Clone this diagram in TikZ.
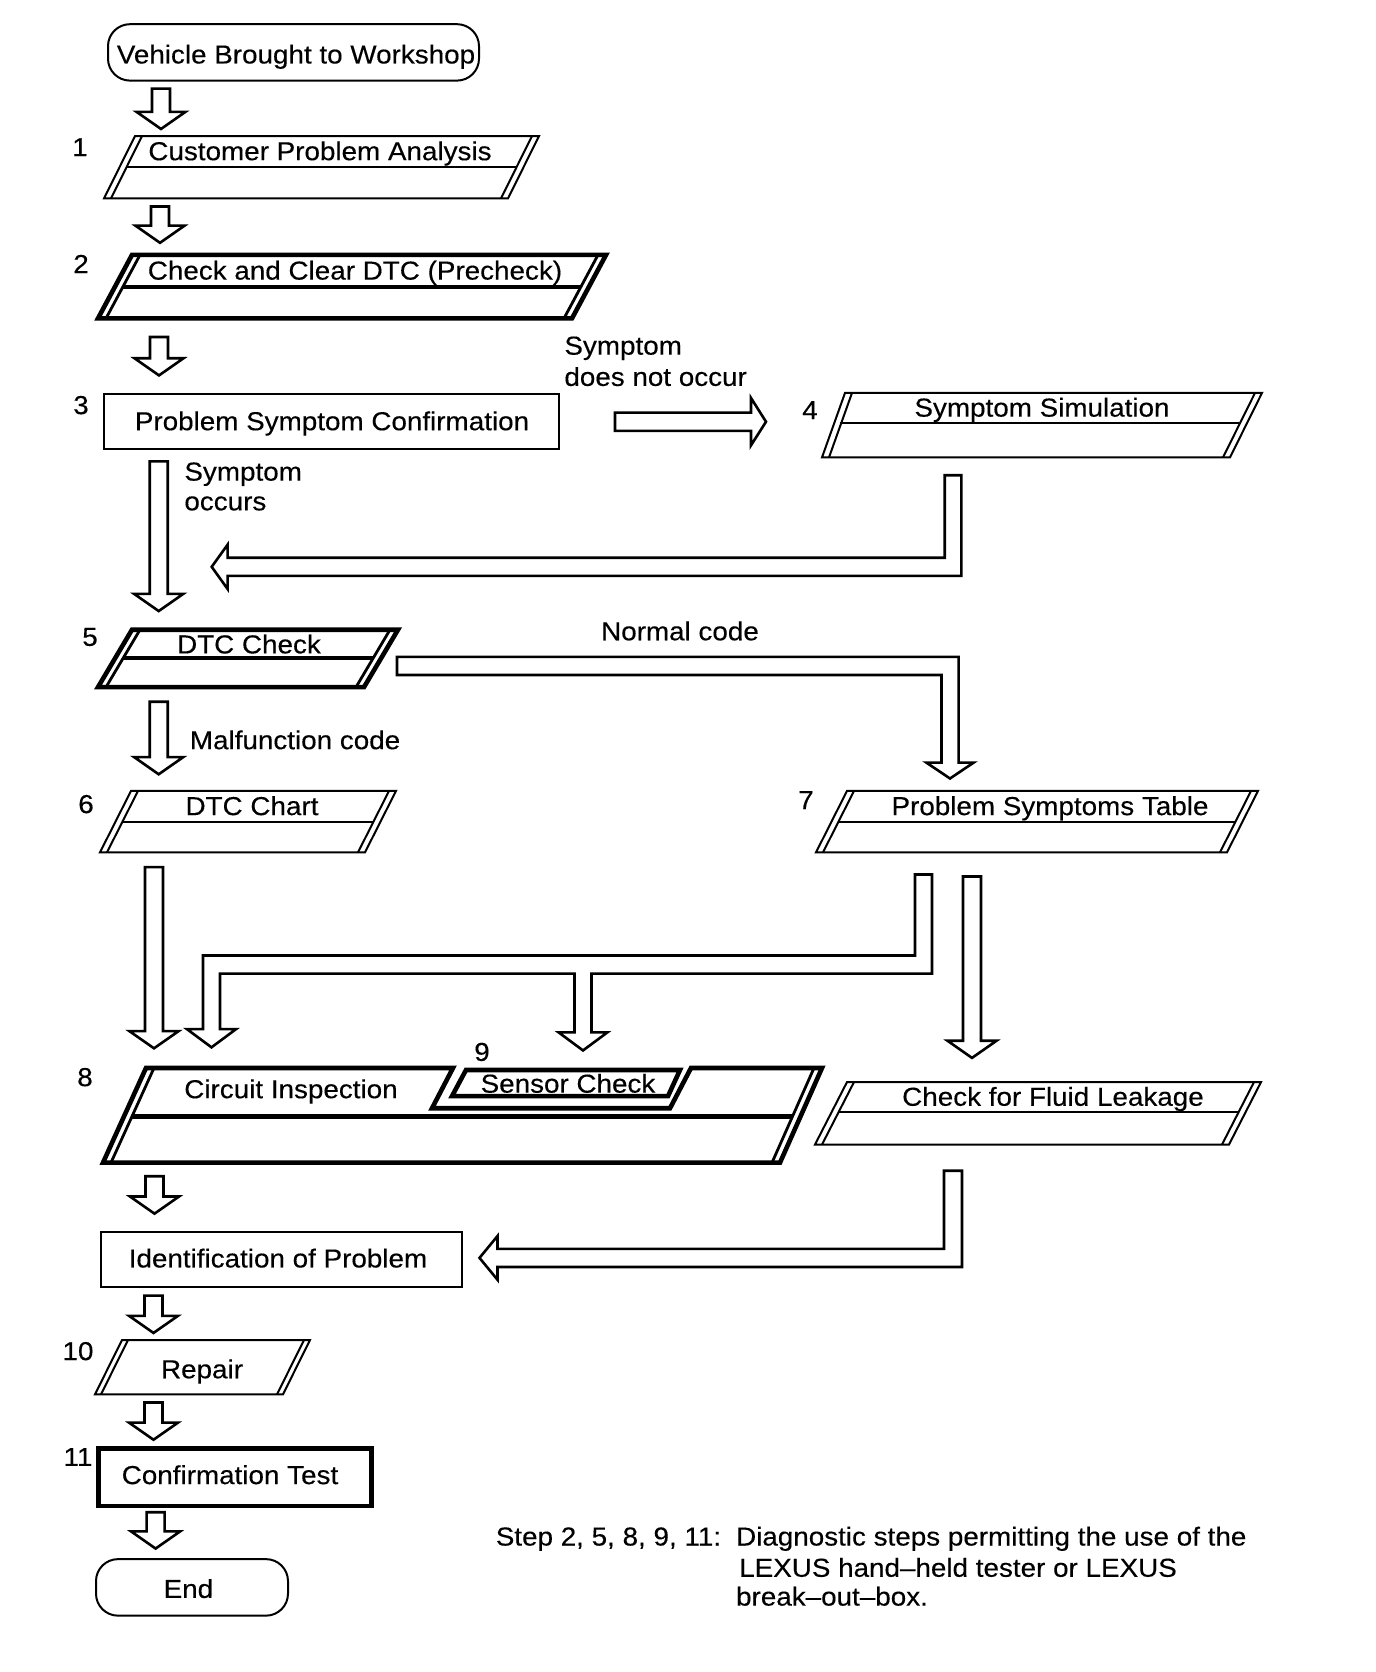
\documentclass[tikz,border=0pt]{standalone}
\usepackage{fontspec}
\setmainfont{Liberation Sans}[FakeStretch=1.07,FakeBold=0.3]
\tikzset{
 thinln/.style={line width=1pt},
 thickln/.style={line width=2.3pt},
 midln/.style={line width=1.4pt},
 blk/.style={line width=1.3pt, fill=white, line join=miter},
 lbl/.style={inner sep=0pt, font=\fontsize{13}{15.5}\selectfont},
}
% down block arrow: x, ytop, ytip
\newcommand\darr[3]{\draw[blk] ({#1-9},#2) -- ({#1+9},#2) -- ({#1+9},{#3-17}) -- ({#1+24.5},{#3-17}) -- (#1,#3) -- ({#1-24.5},{#3-17}) -- ({#1-9},{#3-17}) -- cycle;}
% parallelogram: outer style, inner style, TLx, TRx, ytop, ybot, slant, gap
\newcommand\pgram[8]{%
 \draw[#1] (#3,#5) -- (#4,#5) -- ({#4-#7},#6) -- ({#3-#7},#6) -- cycle;
 \draw[#2] ({#3+#8},#5) -- ({#3+#8-#7},#6);
 \draw[#2] ({#4-#8},#5) -- ({#4-#8-#7},#6);}
% divider: style, TLx, TRx, ytop, ybot, slant, gap, ydiv
\newcommand\pdiv[8]{%
 \draw[#1] ({#2+#7-#6*(#8-#4)/(#5-#4)},#8) -- ({#3-#7-#6*(#8-#4)/(#5-#4)},#8);}
\begin{document}
\begin{tikzpicture}[x=0.5pt,y=-0.50375pt]
\useasboundingbox (0pt,0pt) rectangle (688pt,-836pt);
% start
\draw[thinln, rounded corners=11pt] (108,24) rectangle (479,80);
\node[lbl,anchor=base] (start) at (296,63) {Vehicle Brought to Workshop};
\darr{161}{88}{128}
% 1
\node[lbl,anchor=base] (n1) at (80,155) {1};
\pgram{thinln}{thinln}{135}{539}{135}{197}{31}{7}
\pdiv{thinln}{135}{539}{135}{197}{31}{7}{166}
\node[lbl,anchor=base] (b1) at (320,159) {Customer Problem Analysis};
\darr{160}{205}{241}
% 2
\node[lbl,anchor=base] (n2) at (81,271) {2};
\pgram{thickln}{midln}{132}{606}{253}{316}{34}{8}
\pdiv{thickln}{132}{606}{253}{316}{34}{8}{285}
\node[lbl,anchor=base] (b2) at (355,277.5) {Check and Clear DTC (Precheck)};
\darr{159}{334.5}{372.6}
% 3
\node[lbl,anchor=base] (n3) at (81,411) {3};
\draw[thinln] (104,391) rectangle (559,446);
\node[lbl,anchor=base] (b3) at (332,427) {Problem Symptom Confirmation};
\node[lbl,anchor=base west] (l3a) at (564,352) {Symptom};
\node[lbl,anchor=base west] (l3b) at (564,383) {does not occur};
\draw[blk] (615,409.6) -- (751,409.6) -- (751,395) -- (766,418.6) -- (751,442) -- (751,427.6) -- (615,427.6) -- cycle;
% 4
\node[lbl,anchor=base] (n4) at (810,416) {4};
\draw[thinln] (845,390) -- (1262,390) -- (1230,454) -- (822,454) -- cycle;
\draw[thinln] (852,390) -- (829,454);
\draw[thinln] (1255,390) -- (1223,454);
\draw[thinln] (839.5,420) -- (1239,420);
\node[lbl,anchor=base] (b4) at (1042,413.5) {Symptom Simulation};
\draw[blk] (944.7,471.7) -- (961.3,471.7) -- (961.3,571.6) -- (227.6,571.6) -- (227.6,584.6) -- (211.7,562.6) -- (227.6,540.6) -- (227.6,553.6) -- (944.7,553.6) -- cycle;
% symptom occurs
\darr{158.7}{458}{606.5}
\node[lbl,anchor=base west] (l5a) at (184,477) {Symptom};
\node[lbl,anchor=base west] (l5b) at (184,506.5) {occurs};
% 5
\node[lbl,anchor=base] (n5) at (90,641) {5};
\pgram{thickln}{midln}{132}{398}{625}{682}{34}{8}
\pdiv{thickln}{132}{398}{625}{682}{34}{8}{653}
\node[lbl,anchor=base] (b5) at (249,648.5) {DTC Check};
\node[lbl,anchor=base] (lnc) at (680,635.5) {Normal code};
\draw[blk] (397,652) -- (958.6,652) -- (958.6,757) -- (973.5,757) -- (950,772.7) -- (926.5,757) -- (941.5,757) -- (941.5,670) -- (397,670) -- cycle;
\darr{158.7}{696.5}{768.5}
\node[lbl,anchor=base west] (lmc) at (189.5,743.6) {Malfunction code};
% 6
\node[lbl,anchor=base] (n6) at (86,807) {6};
\pgram{thinln}{thinln}{131}{396}{785}{846}{31}{7}
\pdiv{thinln}{131}{396}{785}{846}{31}{7}{816}
\node[lbl,anchor=base] (b6) at (252,809) {DTC Chart};
% 7
\node[lbl,anchor=base] (n7) at (806,803) {7};
\pgram{thinln}{thinln}{847}{1258}{785}{846}{31}{7}
\pdiv{thinln}{847}{1258}{785}{846}{31}{7}{816}
\node[lbl,anchor=base] (b7) at (1050,809) {Problem Symptoms Table};
% arrows to 8/9
\darr{154}{860.6}{1040.5}
\draw[blk] (915,868) -- (932,868) -- (932,966.4) -- (591.5,966.4) -- (591.5,1024.6) -- (607.5,1024.6) -- (583,1042.6) -- (558.5,1024.6) -- (574.5,1024.6) -- (574.5,966.4) -- (220,966.4) -- (220,1021.5) -- (236,1021.5) -- (211.5,1039.5) -- (187,1021.5) -- (203,1021.5) -- (203,948.4) -- (915,948.4) -- cycle;
\darr{972}{870}{1050}
% 8 and 9
\node[lbl,anchor=base] (n9) at (482,1053) {9};
\node[lbl,anchor=base] (n8) at (85,1078) {8};
\draw[thickln, line join=miter] (146,1060) -- (453,1060) -- (432,1100) -- (670,1100) -- (691,1060) -- (822,1060) -- (780,1154) -- (103,1154) -- cycle;
\draw[midln] (154,1060) -- (111,1154);
\draw[midln] (814,1060) -- (772,1154);
\draw[thickln] (132,1108) -- (792.5,1108);
\draw[thickln, line join=miter] (466,1062) -- (680,1062) -- (668,1088) -- (452,1088) -- cycle;
\node[lbl,anchor=base] (b8) at (291,1090) {Circuit Inspection};
\node[lbl,anchor=base] (b9) at (568,1084.5) {Sensor Check};
% fluid
\pgram{thinln}{thinln}{847}{1261}{1074}{1136}{32}{7}
\pdiv{thinln}{847}{1261}{1074}{1136}{32}{7}{1104}
\node[lbl,anchor=base] (bf) at (1053,1097.5) {Check for Fluid Leakage};
\draw[blk] (944,1162) -- (962,1162) -- (962,1257.5) -- (497.5,1257.5) -- (497.5,1270.2) -- (479.5,1248.5) -- (497.5,1226.8) -- (497.5,1239.5) -- (944,1239.5) -- cycle;
\darr{154.5}{1167.5}{1204.6}
% identification
\draw[thinln] (100.6,1222.6) rectangle (461.5,1277.6);
\node[lbl,anchor=base] (bid) at (278,1258) {Identification of Problem};
\darr{153.5}{1286}{1323}
% 10
\node[lbl,anchor=base] (n10) at (78,1350) {10};
\pgram{thinln}{thinln}{122}{310}{1330}{1384}{27}{6}
\node[lbl,anchor=base] (b10) at (202,1368) {Repair};
\darr{153.5}{1392}{1429}
% 11
\node[lbl,anchor=base] (n11) at (78,1455) {11};
\draw[thickln] (98.4,1437.5) rectangle (371.5,1494.6);
\node[lbl,anchor=base] (b11) at (230,1473) {Confirmation Test};
\darr{155.6}{1501}{1537}
% end
\draw[thinln, rounded corners=11pt] (96,1547.5) rectangle (288,1603.6);
\node[lbl,anchor=base] (bend) at (188.4,1586) {End};
% note
\node[lbl,anchor=base west] (s1) at (495.4,1534) {Step 2, 5, 8, 9, 11:};
\node[lbl,anchor=base west] (s2) at (735.7,1534) {Diagnostic steps permitting the use of the};
\node[lbl,anchor=base west] (s3) at (738.8,1565) {LEXUS hand–held tester or LEXUS};
\node[lbl,anchor=base west] (s4) at (735.7,1593.6) {break–out–box.};
\end{tikzpicture}
\end{document}
